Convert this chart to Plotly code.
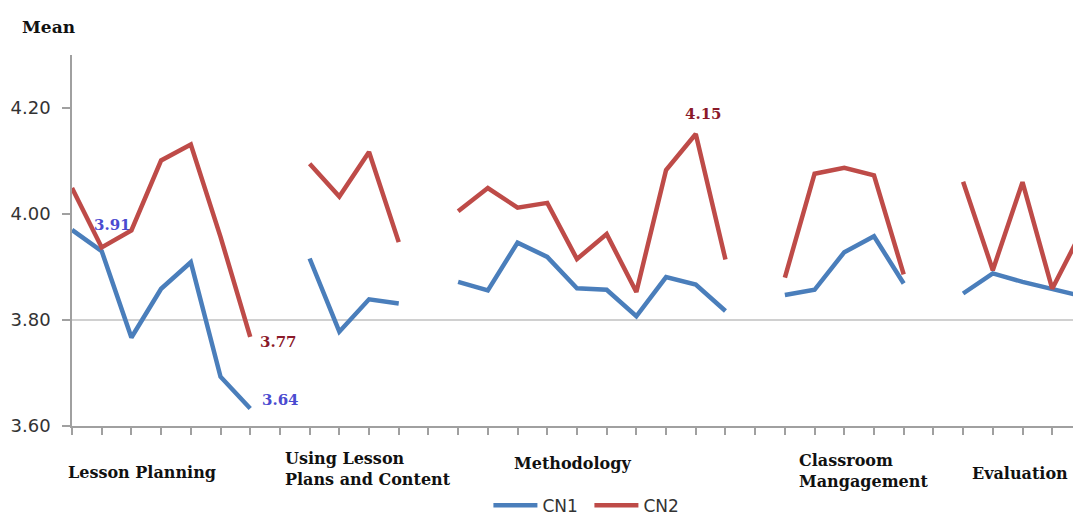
import plotly.graph_objects as go

# category slots (index positions along x); None = gap between groups
x_idx = list(range(35))

cn1 = [3.97, 3.93, 3.767, 3.859, 3.909, 3.693, 3.633, None,
       3.916, 3.778, 3.839, 3.831, None,
       3.872, 3.856, 3.946, 3.919, 3.860, 3.857, 3.807, 3.881, 3.867, 3.817, None,
       3.847, 3.857, 3.928, 3.958, 3.869, None,
       3.850, 3.888, 3.872, 3.859, 3.845]

cn2 = [4.049, 3.937, 3.969, 4.101, 4.131, 3.957, 3.768, None,
       4.095, 4.033, 4.117, 3.947, None,
       4.005, 4.049, 4.012, 4.021, 3.915, 3.962, 3.853, 4.083, 4.151, 3.914, None,
       3.880, 4.076, 4.087, 4.073, 3.886, None,
       4.061, 3.894, 4.060, 3.859, 3.968]

group_labels = ["Lesson Planning", "Using Lesson<br>Plans and Content", "Methodology",
                "Classroom<br>Mangagement", "Evaluation"]
group_label_x = [2.37, 7.1, 16.84, 24.41, 33.6]
group_label_anchor = ["center", "left", "center", "left", "right"]
group_label_y = [-0.124, -0.117, -0.102, -0.12, -0.127]

y_ticks = [3.60, 3.80, 4.00, 4.20]
y_ticktext = ["3.60", "3.80", "4.00", "4.20"]

point_labels = ["3.91", "3.77", "3.64", "4.15"]
point_label_x = [0.67, 6.26, 6.33, 20.57]
point_label_y = [3.980, 3.758, 3.649, 4.189]
point_label_color = ["#4b4bd0", "#8b1a2a", "#4b4bd0", "#8b1a2a"]

BLUE = "#4A7EBB"
RED = "#BE4B48"

fig = go.Figure()
fig.add_trace(go.Scatter(x=x_idx, y=cn1, mode="lines", name="CN1",
                         line=dict(color=BLUE, width=4.5), connectgaps=False))
fig.add_trace(go.Scatter(x=x_idx, y=cn2, mode="lines", name="CN2",
                         line=dict(color=RED, width=4.5), connectgaps=False))

fig.add_shape(type="line", xref="paper", yref="y", x0=0, x1=1, y0=3.80, y1=3.80,
              line=dict(color="#c0c0c0", width=1.5), layer="below")

ann = []
for t, x, a, y in zip(group_labels, group_label_x, group_label_anchor, group_label_y):
    ann.append(dict(text="<b>" + t + "</b>", x=x, y=y, xref="x", yref="paper",
                    xanchor=a, yanchor="middle", align="left", showarrow=False,
                    font=dict(family="DejaVu Serif", size=16, color="#111")))
for t, x, y, c in zip(point_labels, point_label_x, point_label_y, point_label_color):
    ann.append(dict(text="<b>" + t + "</b>", x=x, y=y, xref="x", yref="y",
                    xanchor="left", yanchor="middle", showarrow=False,
                    font=dict(family="DejaVu Serif", size=15, color=c)))
ann.append(dict(text="<b>Mean</b>", x=-0.052, y=1.075, xref="paper", yref="paper",
                xanchor="left", yanchor="middle", showarrow=False,
                font=dict(family="DejaVu Serif", size=17, color="#111")))

fig.update_layout(
    width=1073, height=516,
    margin=dict(l=72, r=0, t=55, b=90, autoexpand=False),
    plot_bgcolor="white", paper_bgcolor="white",
    annotations=ann,
    showlegend=True,
    legend=dict(orientation="h", x=0.416, y=-0.215, xanchor="left", yanchor="middle",
                font=dict(family="DejaVu Sans", size=17, color="#333"),
                itemwidth=44, entrywidth=42, entrywidthmode="pixels",
                tracegroupgap=0, bgcolor="rgba(0,0,0,0)"),
    xaxis=dict(range=[0, 33.7], tickvals=list(range(34)), ticktext=[""] * 34,
               showgrid=False, zeroline=False, showline=True, linecolor="#a0a0a0",
               linewidth=1.5, ticks="outside", ticklen=7, tickcolor="#a0a0a0",
               tickwidth=1.5),
    yaxis=dict(range=[3.6, 4.3], tickvals=y_ticks, ticktext=y_ticktext,
               showgrid=False, zeroline=False, showline=True, linecolor="#a0a0a0",
               linewidth=1.5, ticks="outside", ticklen=8, tickcolor="#a0a0a0",
               tickwidth=1.5, ticklabelstandoff=8,
               tickfont=dict(family="DejaVu Sans", size=18, color="#333")),
)

fig.write_html("out.html", config={"displayModeBar": False},
               post_script="document.body.style.margin='0';document.body.style.overflow='hidden';")
